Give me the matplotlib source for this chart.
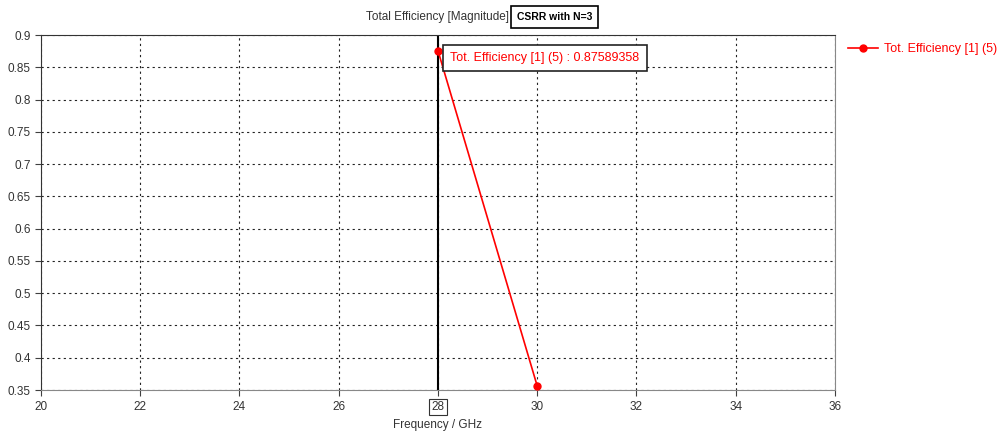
import numpy as np
import matplotlib
matplotlib.use("Agg")
import matplotlib.pyplot as plt
from matplotlib.lines import Line2D

freq = [28, 30]
efficiency = [0.87589358, 0.3565]
series_label = "Tot. Efficiency [1] (5)"
marker_freq = 28
marker_text = "Tot. Efficiency [1] (5) : 0.87589358"
x_ticks = [20, 22, 24, 26, 28, 30, 32, 34, 36]
y_ticks = [0.35, 0.4, 0.45, 0.5, 0.55, 0.6, 0.65, 0.7, 0.75, 0.8, 0.85, 0.9]

plt.rcParams['font.family'] = ['Liberation Sans', 'DejaVu Sans']
plt.rcParams['font.size'] = 8.5

fig = plt.figure(figsize=(10.01, 4.36), dpi=100)
ax = fig.add_axes([0.041, 0.1055, 0.793, 0.8142])

ax.plot(freq, efficiency, color='red', lw=1.2, marker='o', ms=5, label=series_label, zorder=3)
ax.axvline(marker_freq, color='black', lw=1.5, zorder=2)

ax.set_xlim(20, 36)
ax.set_ylim(0.35, 0.9)
ax.set_xticks(x_ticks)
ax.set_yticks(y_ticks)
ax.set_yticklabels(["%g" % v for v in y_ticks])
ax.set_xticklabels([str(v) for v in x_ticks])
ax.tick_params(direction='out', length=4, colors='#404040', labelcolor='#333333', labelsize=8.5)
ax.tick_params(axis='x', pad=4)
ax.grid(True, color='#222222', ls=(0, (2, 3)), lw=0.8)

for s in ['left', 'top']:
    ax.spines[s].set_color('#333333')
for s in ['bottom', 'right']:
    ax.spines[s].set_color('#888888')

# boxed 28 label
for lbl in ax.get_xticklabels():
    if lbl.get_text() == str(marker_freq):
        lbl.set_bbox(dict(facecolor='white', edgecolor='#333333', lw=0.8, pad=1.5))

ax.set_xlabel("Frequency / GHz", color='#333333', fontsize=8.5, labelpad=4)

ax.annotate(marker_text, xy=(marker_freq, efficiency[0]), xytext=(9, -5),
            textcoords='offset points', va='center', ha='left', color='red', fontsize=9,
            bbox=dict(facecolor='white', edgecolor='#222222', lw=1.2, pad=5))

fig.text(0.508, 0.961, "Total Efficiency [Magnitude]", ha='right', va='center', color='#333333', fontsize=8.5)
fig.text(0.5165, 0.961, "CSRR with N=3", ha='left', va='center', color='black', fontsize=7.5,
         fontweight='bold', bbox=dict(facecolor='white', edgecolor='black', lw=1.2, pad=4))

handle = Line2D([], [], color='red', lw=1.2, marker='o', ms=5)
fig.legend([handle], [series_label], loc='upper left', bbox_to_anchor=(0.842, 0.913), frameon=False,
           fontsize=9, labelcolor='red', handlelength=2.4, handletextpad=0.5, borderaxespad=0)

fig.savefig("out.png", dpi=100)
